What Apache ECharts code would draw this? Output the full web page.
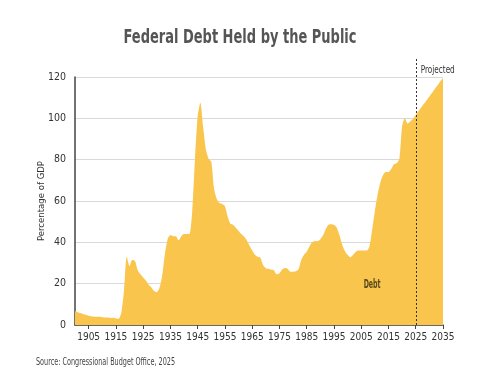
<!DOCTYPE html>
<html>
<head>
<meta charset="utf-8">
<script src="https://cdn.jsdelivr.net/npm/echarts@6/dist/echarts.min.js"></script>
<style>
html,body{margin:0;padding:0;background:#fff;}
#c{width:480px;height:389px;}
</style>
</head>
<body>
<div id="c"></div>
<script>
// ---- data ----
const years = [];
for (let y = 1900; y <= 2035; y++) years.push(y);
const debt = [
  6.6, 6.2, 5.8, 5.3, 4.9, 4.5, 4.2, 4.0, 4.0, 4.0,        // 1900-1909
  3.8, 3.6, 3.6, 3.4, 3.5, 3.2, 3.0, 6.0, 17.0, 33.0,      // 1910-1919
  28.5, 31.5, 31.0, 26.5, 24.5, 23.0, 21.5, 19.5, 18.3, 16.4, // 1920-1929
  15.9, 18.0, 24.0, 34.5, 41.5, 43.5, 43.0, 43.0, 41.0, 43.0, // 1930-1939
  44.0, 44.0, 44.0, 55.0, 80.0, 101.0, 107.5, 96.0, 85.0, 80.5, // 1940-1949
  79.0, 66.0, 61.0, 59.0, 58.5, 57.5, 52.5, 49.0, 48.5, 47.0, // 1950-1959
  45.5, 44.0, 42.8, 41.0, 38.5, 36.0, 34.0, 33.0, 32.6, 29.0, // 1960-1969
  27.5, 27.2, 26.8, 26.4, 24.5, 25.0, 26.8, 27.6, 27.2, 25.8, // 1970-1979
  25.8, 26.0, 27.0, 31.5, 34.0, 35.5, 38.0, 40.0, 40.7, 40.5, // 1980-1989
  41.5, 43.4, 46.5, 48.5, 48.8, 48.5, 47.2, 43.5, 39.0, 35.8, // 1990-1999
  34.0, 32.8, 34.0, 35.5, 36.0, 36.1, 36.1, 36.0, 38.0, 46.0, // 2000-2009
  55.0, 63.0, 69.0, 72.5, 74.0, 74.0, 75.5, 77.8, 78.3, 80.5, // 2010-2019
  96.0, 100.0, 97.5, 98.5, 99.8, 101.6, 103.4, 105.2, 107.0, 108.8, // 2020-2029
  110.6, 112.4, 114.2, 116.0, 117.8, 119.5                   // 2030-2035
];
const xTickLabels = [1905, 1915, 1925, 1935, 1945, 1955, 1965, 1975, 1985, 1995, 2005, 2015, 2025, 2035];
const projectionStart = 2025;
const titleText = 'Federal Debt Held by the Public';
const yAxisName = 'Percentage of GDP';
const sourceText = 'Source: Congressional Budget Office, 2025';
const seriesLabel = 'Debt';
const projectedLabel = 'Projected';
const debtLabelPos = [2009, 19.5];

const FAM = '"DejaVu Sans", sans-serif';
const COND = 'condensed';

// horizontal squeeze factor so a text fits the narrow width seen in the reference
const _mc = document.createElement('canvas').getContext('2d');
function squeeze(text, font, targetW) {
  _mc.font = font;
  const w = _mc.measureText(text).width;
  return w > 0 ? Math.min(1, targetW / w) : 1;
}

const chart = echarts.init(document.getElementById('c'), null, {renderer: 'canvas'});
chart.setOption({
  animation: false,
  backgroundColor: '#ffffff',
  grid: {left: 75, right: 37, top: 77, bottom: 64, containLabel: false},
  xAxis: {
    type: 'value',
    min: 1900,
    max: 2035,
    axisLine: {show: true, lineStyle: {color: '#444444', width: 1.5}},
    axisTick: {show: true, length: 4, lineStyle: {color: '#444444'}, customValues: xTickLabels},
    axisLabel: {
      customValues: xTickLabels,
      color: '#333333', fontFamily: FAM, fontStyle: 'normal', fontWeight: COND, fontSize: 10, margin: 7,
      formatter: v => String(v)
    },
    splitLine: {show: false}
  },
  yAxis: {
    type: 'value',
    min: 0, max: 120, interval: 20,
    name: yAxisName,
    nameLocation: 'middle',
    nameGap: 28,
    nameMoveOverlap: false,
    nameTextStyle: {color: '#333333', fontFamily: FAM, fontStyle: 'normal', fontWeight: COND, fontSize: 9.5},
    axisLine: {show: true, lineStyle: {color: '#444444', width: 1.5}},
    axisTick: {show: false},
    axisLabel: {color: '#333333', fontFamily: FAM, fontStyle: 'normal', fontWeight: COND, fontSize: 10.5, margin: 9},
    splitLine: {show: true, lineStyle: {color: '#d9d9d9', width: 1}}
  },
  series: [{
    type: 'line',
    name: seriesLabel,
    data: years.map((y, i) => [y, debt[i]]),
    smooth: 0.25,
    symbol: 'none',
    lineStyle: {width: 0},
    areaStyle: {color: '#F9C54D', opacity: 1},
    z: 1
  }]
});

function addOverlays() {
  const top = chart.convertToPixel({gridIndex: 0}, [projectionStart, 120]);
  const bot = chart.convertToPixel({gridIndex: 0}, [projectionStart, 0]);
  const lbl = chart.convertToPixel({gridIndex: 0}, debtLabelPos);
  const titleFont = 'normal bold ' + COND + ' 19px ' + FAM;
  const projFont = 'normal ' + COND + ' 10px ' + FAM;
  const debtFont = 'normal bold ' + COND + ' 11.5px ' + FAM;
  const srcFont = 'normal ' + COND + ' 10px ' + FAM;
  chart.setOption({
    graphic: [
      {
        type: 'text', z: 10,
        x: 240, y: 38,
        scaleX: squeeze(titleText, titleFont, 233),
        style: {text: titleText, fill: '#555555', font: titleFont, textAlign: 'center', textVerticalAlign: 'middle'}
      },
      {
        type: 'line', z: 10,
        shape: {x1: Math.round(top[0]) + 0.5, y1: top[1] - 18, x2: Math.round(top[0]) + 0.5, y2: bot[1]},
        style: {stroke: '#333333', lineWidth: 1, lineDash: [2, 2]}
      },
      {
        type: 'text', z: 10,
        x: top[0] + 5, y: top[1] - 7,
        scaleX: squeeze(projectedLabel, projFont, 34),
        style: {text: projectedLabel, fill: '#333333', font: projFont, textVerticalAlign: 'middle'}
      },
      {
        type: 'text', z: 10,
        x: lbl[0], y: lbl[1],
        scaleX: squeeze(seriesLabel, debtFont, 17),
        style: {text: seriesLabel, fill: '#5a4a1e', font: debtFont, textAlign: 'center', textVerticalAlign: 'middle'}
      },
      {
        type: 'text', z: 10,
        x: 36, y: 362,
        scaleX: squeeze(sourceText, srcFont, 139),
        style: {text: sourceText, fill: '#444444', font: srcFont, textVerticalAlign: 'middle'}
      }
    ]
  });
}
addOverlays();
</script>
</body>
</html>
